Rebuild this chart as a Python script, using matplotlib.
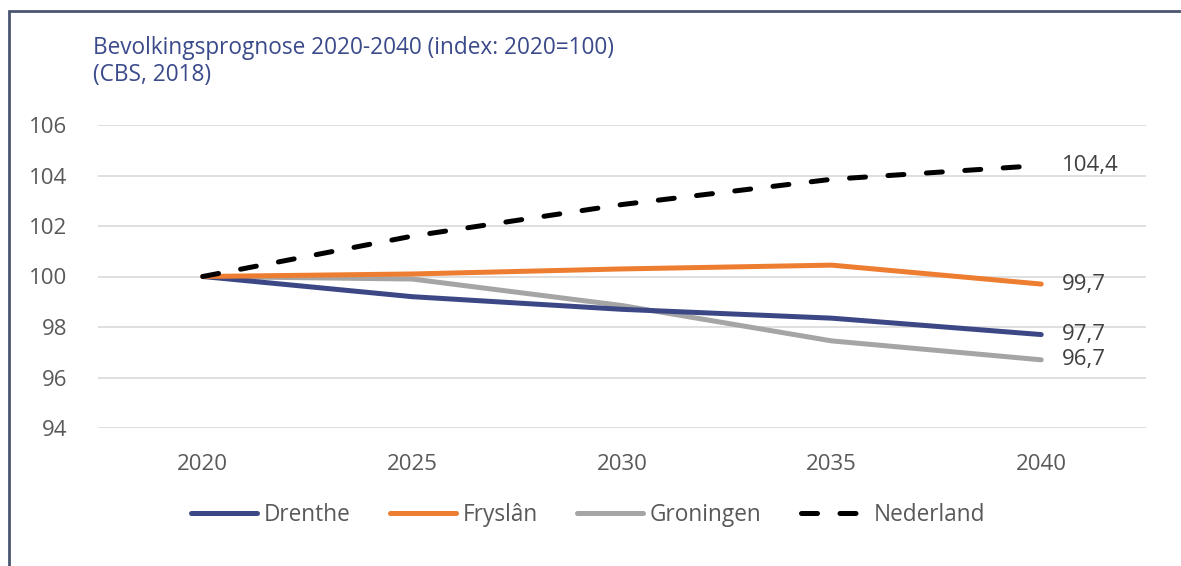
import matplotlib
matplotlib.use('Agg')
import matplotlib.pyplot as plt
from matplotlib.patches import Rectangle

# data (index: 2020 = 100)
years = ['2020', '2025', '2030', '2035', '2040']
drenthe = [100, 99.2, 98.7, 98.35, 97.7]
fryslan = [100, 100.1, 100.3, 100.45, 99.7]
groningen = [100, 99.9, 98.85, 97.45, 96.7]
nederland = [100, 101.6, 102.85, 103.85, 104.4]
end_labels = ['97,7', '99,7', '96,7', '104,4']

plt.rcParams['font.family'] = ['Open Sans', 'DejaVu Sans']

fig = plt.figure(figsize=(11.81, 5.66), dpi=100)
W, H = 1181, 566
# axes placed in pixel terms
ax = fig.add_axes([98 / W, 1 - 428 / H, (1146 - 98) / W, (428 - 125) / H])

x = range(len(years))
grey = '#595959'
lw = 3.6
ax.plot(x, drenthe, color='#3c4886', lw=lw, solid_capstyle='round', label='Drenthe', zorder=3)
ax.plot(x, fryslan, color='#ed7d31', lw=lw, solid_capstyle='round', label='Fryslân', zorder=3)
ax.plot(x, groningen, color='#a5a5a5', lw=lw, solid_capstyle='round', label='Groningen', zorder=2)
ax.plot(x, nederland, color='black', lw=lw, dashes=(3.2, 4.5), dash_capstyle='round',
        label='Nederland', zorder=4)

series = [drenthe, fryslan, groningen, nederland]
for s, lab in zip(series, end_labels):
    ax.annotate(lab, (len(years) - 1, s[-1]), xytext=(15, 0), textcoords='offset points',
                va='center', ha='left', fontsize=16, color='#404040')

ax.set_xlim(-0.5, len(years) - 0.5)
ax.set_ylim(94, 106)
ax.set_yticks(range(94, 107, 2))
ax.set_xticks(list(x))
ax.set_xticklabels(years)
ax.grid(axis='y', color='#d9d9d9', lw=1.2)
ax.set_axisbelow(True)
for sp in ax.spines.values():
    sp.set_visible(False)
ax.tick_params(length=0, labelsize=16, labelcolor=grey)
ax.tick_params(axis='x', pad=19)
ax.tick_params(axis='y', pad=22)

title_color = '#3b4a8a'
fig.text(93 / W, 1 - 48 / H, 'Bevolkingsprognose 2020-2040 (index: 2020=100)',
         color=title_color, fontsize=16.3, va='center', ha='left')
fig.text(93 / W, 1 - 75 / H, '(CBS, 2018)',
         color=title_color, fontsize=16.3, va='center', ha='left')

leg = fig.legend(loc='center', bbox_to_anchor=(588 / W, 1 - 515 / H), ncol=4, frameon=False,
                 fontsize=16.3, handlelength=2.9, handletextpad=0.3, columnspacing=1.75)
for t in leg.get_texts():
    t.set_color(grey)

# outer frame (cut at right/bottom edge)
fig.patches.append(Rectangle((9 / W, -0.1), 1.2, 1 - 11 / H + 0.1, transform=fig.transFigure,
                             fill=False, edgecolor='#4a5570', lw=2))

fig.savefig('out.png', dpi=100)
